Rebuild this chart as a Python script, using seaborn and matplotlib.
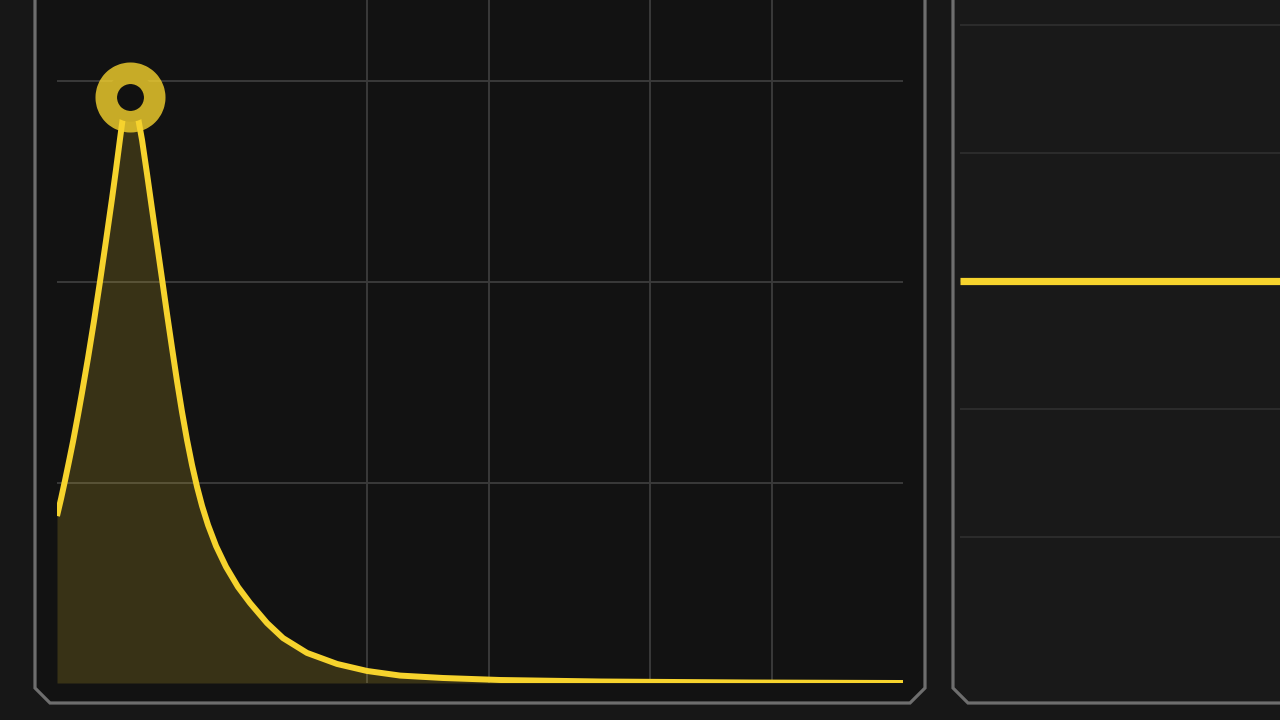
import numpy as np
import pandas as pd
import matplotlib
matplotlib.use("Agg")
import matplotlib.pyplot as plt
from matplotlib.patches import Polygon
import seaborn as sns

# curva de respuesta (eje x logaritmico)
freq = [17.16, 17.56, 17.96, 18.37, 18.80, 19.34, 19.78, 20.47, 21.18, 21.91,
        22.67, 23.46, 24.00, 24.55, 25.12, 25.99,
        27.04, 27.83, 28.63, 29.45, 30.30, 31.18, 32.08, 33.00, 33.95, 34.93,
        35.94, 36.98, 38.05, 39.15, 40.50, 42.39, 44.87, 48.02, 51.41, 56.64,
        62.04, 71.10, 84.34, 100.0, 120.7, 154.0, 213.0, 376.1, 882.6, 2106.0]
level = [0.833, 0.919, 1.010, 1.105, 1.205, 1.337, 1.447, 1.621, 1.806, 2.002,
         2.205, 2.415, 2.561, 2.713, 2.863, 2.923,
         2.848, 2.708, 2.539, 2.364, 2.190, 2.015, 1.840, 1.671, 1.506, 1.352,
         1.212, 1.087, 0.978, 0.883, 0.788, 0.683, 0.579, 0.479, 0.399, 0.299,
         0.224, 0.150, 0.095, 0.060, 0.037, 0.025, 0.015, 0.0075, 0.0025, 0.0]
freq_grid = [100, 200, 500, 1000]
level_grid = [1, 2, 3]

# panel derecho: linea plana de ganancia
gain_x = [0.0, 1.0]
gain_db = [0.0, 0.0]
gain_grid = [-12, -6, 0, 6, 12]

YELLOW = '#f6d32d'
W, H = 1280, 720

sns.set_theme(style='dark')
plt.rcParams['font.family'] = ['DejaVu Sans']

fig = plt.figure(figsize=(12.8, 7.2), dpi=100)
fig.patch.set_facecolor('#171717')


def px(x, y):
    return (x / W, 1 - y / H)


# marcos de los paneles (esquinas achaflanadas)
left_frame = [px(35, -10), px(925, -10), px(925, 688), px(910, 703),
              px(50, 703), px(35, 688)]
right_frame = [px(953, -10), px(1295, -10), px(1295, 703), px(968, 703),
               px(953, 688)]
fig.patches.append(Polygon(left_frame, closed=True, transform=fig.transFigure,
                           facecolor='#121212', edgecolor='#6e6e6e', lw=2.3, zorder=-1))
fig.patches.append(Polygon(right_frame, closed=True, transform=fig.transFigure,
                           facecolor='#191919', edgecolor='#6e6e6e', lw=2.3, zorder=-1))

# panel izquierdo
ax = fig.add_axes([57 / W, (H - 683) / H, (903 - 57) / W, 683 / H])
ax.set_facecolor('none')
df = pd.DataFrame({'freq': freq, 'level': level})
ax.fill_between(df['freq'], df['level'], 0, color=YELLOW, alpha=0.17, lw=0, zorder=1)
sns.lineplot(data=df, x='freq', y='level', ax=ax, color=YELLOW, lw=4.3,
             sort=False, zorder=3, solid_capstyle='butt', solid_joinstyle='round')
ax.set_xscale('log')
ax.set_xlim(17.16, 2106)
ax.set_ylim(0, 683 / 200.5)
ax.set_xticks(freq_grid)
ax.set_xticks([], minor=True)
ax.set_yticks(level_grid)
ax.grid(True, color='#3a3a3a', lw=1.4)
ax.tick_params(length=0, labelbottom=False, labelleft=False, which='both')
ax.set_xlabel('')
ax.set_ylabel('')
for s in ax.spines.values():
    s.set_visible(False)

# marcador del pico
i_pk = int(np.argmax(level))
ax.plot([freq[i_pk]], [level[i_pk]], marker='o', ms=34.9, mew=15.5,
        mfc='#111111', mec=(0.965, 0.827, 0.176, 0.8), ls='none',
        zorder=4, clip_on=False)

# panel derecho
ax2 = fig.add_axes([960 / W, (H - 683) / H, (W - 960) / W, 683 / H])
ax2.set_facecolor('none')
sns.lineplot(x=gain_x, y=gain_db, ax=ax2, color=YELLOW, lw=5.2, zorder=3,
             solid_capstyle='butt')
ax2.set_xlim(0, 1)
ax2.set_ylim(-(402 / 128) * 6, (281 / 128) * 6)
ax2.set_xticks([])
ax2.set_yticks(gain_grid)
ax2.grid(True, axis='y', color='#2c2c2c', lw=1.4)
ax2.tick_params(length=0, labelbottom=False, labelleft=False)
for s in ax2.spines.values():
    s.set_visible(False)

fig.savefig('out.png', dpi=100, facecolor=fig.get_facecolor())
